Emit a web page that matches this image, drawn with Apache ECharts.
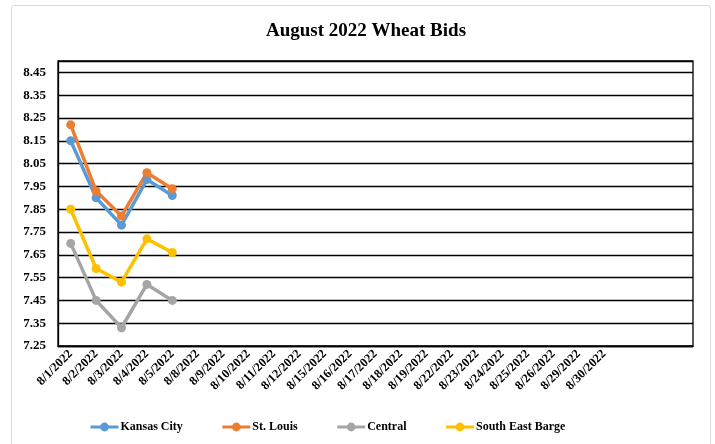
<!DOCTYPE html>
<html>
<head>
<meta charset="utf-8">
<script src="https://cdn.jsdelivr.net/npm/echarts@6/dist/echarts.min.js"></script>
<style>
html,body{margin:0;padding:0;background:#fff;}
#wrap{position:relative;width:715px;height:444px;overflow:hidden;}
#chart{position:absolute;left:0;top:0;width:715px;height:444px;}
#frame{position:absolute;left:11px;top:5px;width:698px;height:460px;border:1.5px solid #d9d9d9;border-radius:3px;pointer-events:none;}
</style>
</head>
<body>
<div id="wrap"><div id="frame"></div><div id="chart"></div></div>
<script>
const categories = ['8/1/2022','8/2/2022','8/3/2022','8/4/2022','8/5/2022','8/8/2022','8/9/2022','8/10/2022','8/11/2022','8/12/2022','8/15/2022','8/16/2022','8/17/2022','8/18/2022','8/19/2022','8/22/2022','8/23/2022','8/24/2022','8/25/2022','8/26/2022','8/29/2022','8/30/2022','','',''];
const kansasCity = [8.15, 7.90, 7.78, 7.98, 7.91];
const stLouis = [8.22, 7.93, 7.82, 8.01, 7.94];
const central = [7.70, 7.45, 7.33, 7.52, 7.45];
const southEastBarge = [7.85, 7.59, 7.53, 7.72, 7.66];
const yMin = 7.25, yMax = 8.5, yStep = 0.1;

const font = '"Liberation Serif", "Times New Roman", serif';
function mk(name, data, color) {
  return {
    name: name, type: 'line', data: data,
    symbol: 'circle', symbolSize: 9,
    lineStyle: {width: 3.5, color: color},
    itemStyle: {color: color},
    emphasis: {disabled: true}
  };
}
const chart = echarts.init(document.getElementById('chart'));
chart.setOption({
  animation: false,
  color: ['#5B9BD5', '#ED7D31', '#A5A5A5', '#FFC000'],
  title: {
    text: 'August 2022 Wheat Bids', left: 361, top: 17, textAlign: 'center',
    textStyle: {fontFamily: font, fontWeight: 'bold', fontSize: 19, color: '#000'}
  },
  legend: {
    left: 84, top: 416, itemWidth: 28, itemHeight: 11, itemGap: 38,
    lineStyle: {width: 3},
    textStyle: {fontFamily: font, fontWeight: 'bold', fontSize: 12, color: '#000', padding: [0,0,0,-3]},
    data: ['Kansas City', 'St. Louis', 'Central', 'South East Barge']
  },
  grid: {left: 58, right: 22, top: 61, bottom: 98, show: true, borderColor: '#000', borderWidth: 1.3, containLabel: false},
  xAxis: {
    type: 'category', data: categories, boundaryGap: true,
    axisLine: {lineStyle: {color: '#000', width: 1.3}},
    axisTick: {show: false},
    axisLabel: {rotate: 45, interval: 0, margin: 6, fontFamily: font, fontWeight: 'bold', fontSize: 12.5, color: '#000'}
  },
  yAxis: {
    type: 'value', min: yMin, max: yMax, interval: yStep,
    axisLine: {show: true, lineStyle: {color: '#000', width: 1.3}},
    axisTick: {show: false},
    splitLine: {lineStyle: {color: '#000', width: 1.3}},
    axisLabel: {showMaxLabel: false, margin: 12, fontFamily: font, fontWeight: 'bold', fontSize: 13, color: '#000',
      formatter: v => v.toFixed(2)}
  },
  series: [
    mk('Kansas City', kansasCity, '#5B9BD5'),
    mk('St. Louis', stLouis, '#ED7D31'),
    mk('Central', central, '#A5A5A5'),
    mk('South East Barge', southEastBarge, '#FFC000')
  ]
});
</script>
</body>
</html>
